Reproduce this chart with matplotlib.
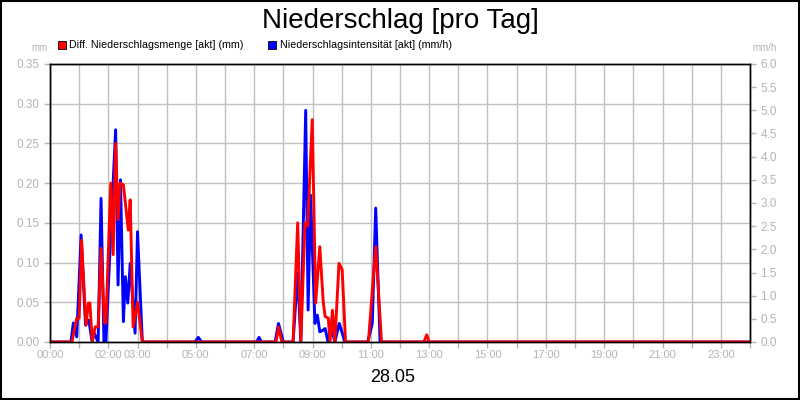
import numpy as np
import matplotlib
matplotlib.use("Agg")
import matplotlib.pyplot as plt
from matplotlib.patches import Rectangle

plt.rcParams['font.family'] = ['Liberation Sans', 'DejaVu Sans']

# Diff. Niederschlagsmenge [akt] (mm) -- time in minutes since 00:00
red_min = [0, 45, 55, 60, 65, 74, 79, 82, 87, 93, 99, 105, 112, 115, 125, 130, 135, 140,
           144, 151, 161, 165, 171, 180, 190,
           465, 470, 477,
           500, 509.5, 516, 524.5, 530, 539.5, 546.5, 555, 562, 566, 572.5, 576, 581, 586,
           594.5, 601, 608,
           655, 670, 682,
           769, 775, 780, 1440]
red_mm = [0, 0, 0.030, 0.030, 0.128, 0.021, 0.049, 0.049, 0, 0.019, 0.019, 0.118, 0.024, 0.024,
          0.200, 0.110, 0.250, 0.154, 0.200, 0.198, 0.141, 0.179, 0.019, 0.050, 0,
          0, 0.019, 0,
          0, 0.150, 0, 0.150, 0.146, 0.280, 0.049, 0.120, 0.051, 0.032, 0.030, 0, 0.040, 0,
          0.099, 0.091, 0,
          0, 0.120, 0,
          0, 0.009, 0, 0]

# Niederschlagsintensität [akt] (mm/h)
blue_min = [0, 43, 48, 55, 64, 73, 80, 86, 91, 99, 105, 111, 115, 125, 135, 140, 145, 151,
            155, 160, 165, 175, 180, 190,
            298, 305, 312,
            425, 430, 435,
            463, 470, 480,
            500, 509.5, 516, 526, 531, 536, 545, 550, 555, 561, 566, 572, 579, 586, 595, 607,
            653.5, 663, 670, 679, 1440]
blue_mmh = [0, 0, 0.41, 0.11, 2.31, 0.37, 0.47, 0.04, 0.19, 0, 3.10, 0, 0, 2.35, 4.58, 1.23,
            3.50, 0.44, 1.41, 0.84, 1.70, 0.19, 2.38, 0,
            0, 0.10, 0,
            0, 0.10, 0,
            0, 0.40, 0,
            0, 1.48, 0, 5.00, 0.69, 3.17, 0.40, 0.58, 0.22, 0.25, 0.29, 0, 0.29, 0, 0.40, 0,
            0, 0.40, 2.89, 0, 0]

hour_ticks = list(range(0, 25))
label_hours = [0, 2, 3, 5, 7, 9, 11, 13, 15, 17, 19, 21, 23]
left_ticks = np.arange(0, 0.351, 0.05)
right_ticks = np.arange(0, 6.01, 0.5)

title = "Niederschlag [pro Tag]"
day_label = "28.05"
red_label = "Diff. Niederschlagsmenge [akt] (mm)"
blue_label = "Niederschlagsintensität [akt] (mm/h)"

grey = "#b4b4b4"

fig = plt.figure(figsize=(8, 4), dpi=100)
ax1 = fig.add_axes([50 / 800, 58 / 400, 700 / 800, 278 / 400])
ax2 = ax1.twinx()

ax1.set_xlim(0, 24)
ax1.set_ylim(0, 0.35)
ax2.set_ylim(0, 6)

ax1.set_xticks(hour_ticks)
ax1.set_xticklabels([f"{h:02d}:00" if h in label_hours else "" for h in hour_ticks])
ax1.set_yticks(left_ticks)
ax1.set_yticklabels([f"{v:.2f}" for v in left_ticks])
ax2.set_yticks(right_ticks)
ax2.set_yticklabels([f"{v:.1f}" for v in right_ticks])

ax1.grid(True, color="#c0c0c0", linewidth=1)
ax1.set_axisbelow(True)

# blue in mm/h scale, drawn on ax1 so red stays on top
ax1.plot(np.array(blue_min) / 60, blue_mmh, color="#0000ff", linewidth=2.1,
         transform=ax2.transData, clip_on=True)
ax1.plot(np.array(red_min) / 60, red_mm, color="#ff0000", linewidth=2.1)

for ax in (ax1, ax2):
    ax.tick_params(colors=grey, labelsize=8.5, length=4, width=1)
    for s in ax.spines.values():
        s.set_color("black")
        s.set_linewidth(1)
ax1.tick_params(axis="x", pad=2, labelsize=8)

fig.text(0.5, 0.947, title, ha="center", va="center", fontsize=20)
fig.text(393 / 800, 0.055, day_label, ha="center", va="center", fontsize=13)
fig.text(40 / 800, 352 / 400, "mm", ha="center", va="center", fontsize=7, color=grey)
fig.text(765 / 800, 352 / 400, "mm/h", ha="center", va="center", fontsize=7, color=grey)

# legend row
fig.patches.append(Rectangle((58 / 800, 351 / 400), 8 / 800, 8 / 400, transform=fig.transFigure,
                             facecolor="#ff0000", edgecolor="black", linewidth=0.6))
fig.text(69 / 800, 355.5 / 400, red_label, ha="left", va="center", fontsize=7.7)
fig.patches.append(Rectangle((268 / 800, 351 / 400), 8 / 800, 8 / 400, transform=fig.transFigure,
                             facecolor="#0000ff", edgecolor="black", linewidth=0.6))
fig.text(280 / 800, 355.5 / 400, blue_label, ha="left", va="center", fontsize=7.7)

# outer frame
fig.patches.append(Rectangle((0.001, 0.002), 0.998, 0.996, transform=fig.transFigure,
                             facecolor="none", edgecolor="black", linewidth=1.5))

fig.savefig("out.png", dpi=100, facecolor="white")
